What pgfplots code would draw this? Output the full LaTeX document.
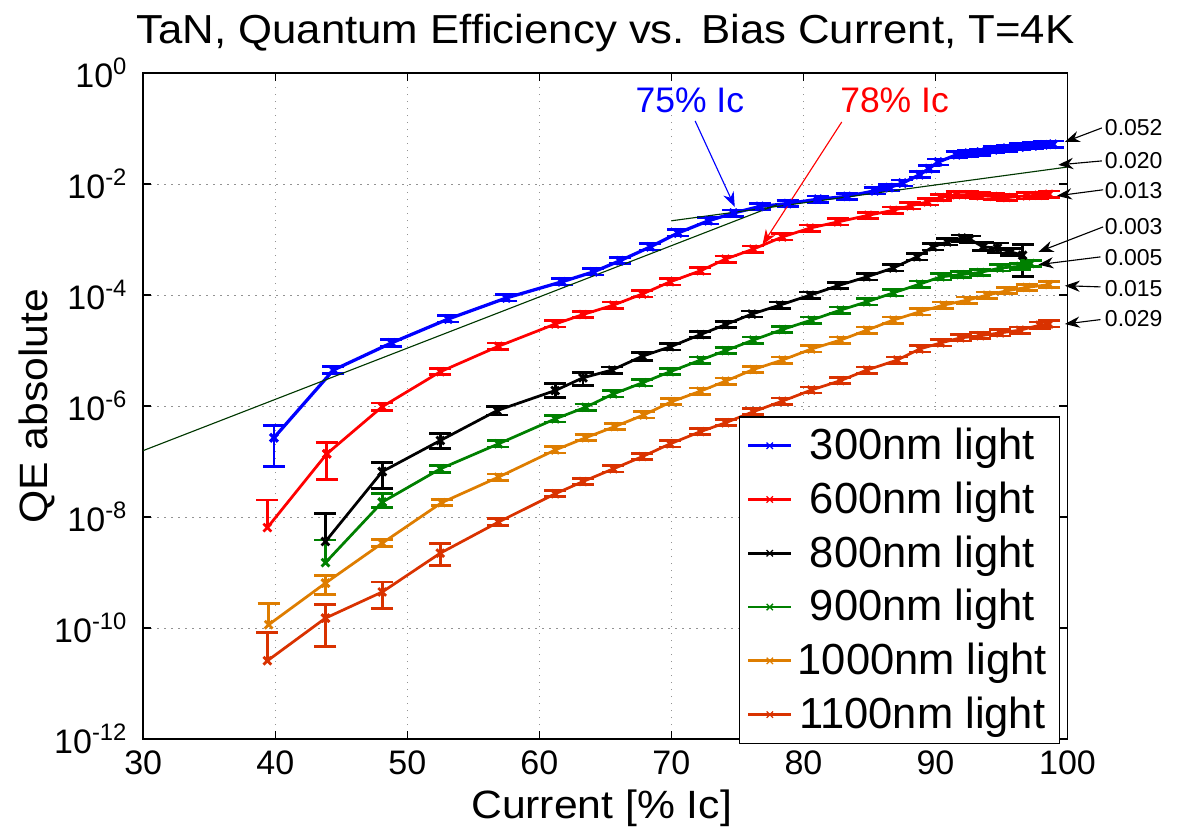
\documentclass[border=0pt]{standalone}
\usepackage{fontspec}
\setmainfont{Liberation Sans}
\newfontfamily\widefont{Liberation Sans}[FakeStretch=1.08]
\usepackage{pgfplots}
\pgfplotsset{compat=1.18}
\usetikzlibrary{arrows.meta}

\definecolor{mgreen}{RGB}{0,128,0}
\definecolor{morange}{RGB}{222,125,0}
\definecolor{mrust}{RGB}{217,50,0}
\definecolor{fitgreen}{RGB}{0,55,0}

\pgfplotsset{
  qe/.style={mark=x, line width=1.1pt, mark size=2.2pt, mark options={solid},
    /pgfplots/error bars/y dir=both,
    /pgfplots/error bars/y explicit relative,
    /pgfplots/error bars/error bar style={line width=1.1pt},
    /pgfplots/error bars/error mark options={rotate=90, line width=1.1pt, mark size=4.4pt}},
  qeplus/.style={qe, forget plot, /pgfplots/error bars/y dir=plus},
}

\begin{document}
\begin{tikzpicture}
\begin{axis}[
  name=ax, at={(0,0)}, anchor=south west,
  scale only axis, width=369.7pt, height=266.3pt,
  xmin=30, xmax=100, ymin=1e-12, ymax=1, ymode=log,
  xtick={30,40,...,100},
  ytick={1e-12,1e-10,1e-8,1e-6,1e-4,1e-2,1},
  yticklabels={10\textsuperscript{-12},10\textsuperscript{-10},10\textsuperscript{-8},10\textsuperscript{-6},10\textsuperscript{-4},10\textsuperscript{-2},10\textsuperscript{0}},
  yminorticks=false,
  grid=major,
  major grid style={line width=0.4pt, gray!85, dash pattern=on 0.6pt off 2.2pt},
  tick align=inside, major tick length=3.2pt,
  tick style={black, line width=0.6pt},
  axis line style={line width=0.7pt},
  ticklabel style={font=\fontsize{13.6pt}{16pt}\selectfont},
  /pgf/number format/assume math mode=true,
  yticklabel style={xshift=-2.7pt},
  xticklabel style={yshift=-1.1pt},
  clip=false,
  legend cell align=center,
  legend style={at={(0.992,0.485)}, anchor=north east,
    font=\fontsize{17.4pt}{20pt}\selectfont, draw=black, line width=0.6pt,
    inner xsep=3pt, inner ysep=2.5pt, row sep=3.4pt},
  legend image post style={mark size=1.8pt, mark options={line width=0.5pt}},
]
% 300 nm
\addplot[qe, color=blue, line width=1.3pt] table[x=x,y=y,y error plus=ep,y error minus=em] {
x y ep em
39.9 2.69e-7 0.66 0.70
44.4 4.47e-6 0.16 0.14
48.8 1.38e-5 0.15 0.13
53.1 3.72e-5 0.14 0.12
57.5 8.91e-5 0.14 0.12
61.7 1.74e-4 0.14 0.12
64.1 2.63e-4 0.14 0.12
66.1 4.17e-4 0.14 0.12
68.4 7.41e-4 0.14 0.12
70.5 1.32e-3 0.14 0.12
72.8 2.19e-3 0.14 0.12
74.7 3.02e-3 0.14 0.12
76.7 3.98e-3 0.14 0.12
78.8 4.47e-3 0.14 0.12
81.1 5.37e-3 0.14 0.12
83.3 6.03e-3 0.14 0.12
85.4 7.59e-3 0.14 0.12
86.5 8.71e-3 0.14 0.12
87.5 1.05e-2 0.14 0.12
88.8 1.48e-2 0.14 0.12
89.5 1.91e-2 0.14 0.12
90.2 2.51e-2 0.14 0.12
91.6 3.39e-2 0.14 0.12
92.5 3.63e-2 0.14 0.12
93.4 3.80e-2 0.14 0.12
94.4 4.17e-2 0.14 0.12
95.4 4.47e-2 0.14 0.12
96.4 4.68e-2 0.14 0.12
97.4 4.90e-2 0.14 0.12
98.2 5.13e-2 0.14 0.12
98.9 5.25e-2 0.14 0.12
};
\addlegendentry{300nm light}
% 600 nm
\addplot[qe, color=red] table[x=x,y=y,y error plus=ep,y error minus=em] {
x y ep em
43.9 1.38e-7 0.58 0.66
48.1 9.77e-7 0.16 0.14
52.5 4.17e-6 0.14 0.12
56.9 1.20e-5 0.14 0.12
61.2 3.02e-5 0.14 0.12
63.3 4.47e-5 0.14 0.12
65.6 6.61e-5 0.14 0.12
67.8 1.05e-4 0.14 0.12
69.9 1.74e-4 0.14 0.12
72.2 2.75e-4 0.14 0.12
74.1 4.47e-4 0.14 0.12
76.2 6.76e-4 0.14 0.12
78.4 1.12e-3 0.14 0.12
80.5 1.62e-3 0.14 0.12
82.6 2.09e-3 0.14 0.12
84.9 2.75e-3 0.14 0.12
86.8 3.39e-3 0.14 0.12
88.1 4.07e-3 0.14 0.12
89.4 4.79e-3 0.14 0.12
90.4 5.75e-3 0.14 0.12
91.6 6.46e-3 0.14 0.12
92.5 6.46e-3 0.14 0.12
93.4 6.17e-3 0.14 0.12
94.4 6.03e-3 0.14 0.12
95.4 5.75e-3 0.14 0.12
96.9 6.17e-3 0.14 0.12
97.8 6.31e-3 0.14 0.12
98.6 6.61e-3 0.14 0.12
};
\addlegendentry{600nm light}
% 800 nm
\addplot[qe, color=black] table[x=x,y=y,y error plus=ep,y error minus=em] {
x y ep em
48.1 6.61e-8 0.45 0.51
52.5 2.40e-7 0.32 0.29
56.8 8.32e-7 0.20 0.17
61.2 1.91e-6 0.32 0.26
63.3 3.24e-6 0.23 0.28
65.5 4.47e-6 0.14 0.12
67.8 7.94e-6 0.18 0.16
69.9 1.17e-5 0.14 0.12
72.2 1.95e-5 0.14 0.12
74.1 2.95e-5 0.14 0.12
76.1 4.57e-5 0.14 0.12
78.2 6.61e-5 0.14 0.12
80.5 1.00e-4 0.14 0.12
82.6 1.48e-4 0.14 0.12
84.8 2.14e-4 0.14 0.12
86.8 3.09e-4 0.14 0.12
88.6 4.90e-4 0.14 0.12
89.8 7.41e-4 0.14 0.12
90.9 9.12e-4 0.14 0.12
92.0 1.07e-3 0.14 0.12
92.6 1.02e-3 0.14 0.12
93.6 7.41e-4 0.20 0.15
94.7 7.08e-4 0.23 0.19
95.7 6.03e-4 0.16 0.14
96.6 5.25e-4 0.58 0.59
};
\addlegendentry{800nm light}
% 900 nm
\addplot[qe, color=mgreen] table[x=x,y=y,y error plus=ep,y error minus=em] {
x y ep em
48.1 1.86e-8 0.41 0.21
52.5 7.41e-8 0.16 0.14
56.9 2.09e-7 0.14 0.12
61.2 5.89e-7 0.14 0.12
63.5 9.55e-7 0.14 0.12
65.6 1.66e-6 0.14 0.12
67.8 2.63e-6 0.14 0.12
69.9 4.17e-6 0.14 0.12
72.2 6.76e-6 0.14 0.12
74.1 1.00e-5 0.14 0.12
76.2 1.55e-5 0.14 0.12
78.4 2.40e-5 0.14 0.12
80.6 3.55e-5 0.14 0.12
82.8 5.37e-5 0.14 0.12
84.8 7.59e-5 0.14 0.12
86.8 1.10e-4 0.14 0.12
88.8 1.58e-4 0.14 0.12
90.4 2.14e-4 0.14 0.12
91.9 2.34e-4 0.14 0.12
93.4 2.57e-4 0.14 0.12
94.9 3.09e-4 0.14 0.12
96.4 3.31e-4 0.14 0.12
97.2 3.72e-4 0.14 0.12
};
\addlegendentry{900nm light}
% 1000 nm
\addplot[qe, color=morange] table[x=x,y=y,y error plus=ep,y error minus=em] {
x y ep em
43.8 6.46e-10 0.38 0.38
48.1 3.39e-9 0.15 0.13
52.6 1.82e-8 0.14 0.12
56.9 5.25e-8 0.14 0.12
61.2 1.62e-7 0.14 0.12
63.5 2.69e-7 0.14 0.12
65.7 4.27e-7 0.14 0.12
67.9 6.92e-7 0.14 0.12
70.0 1.20e-6 0.14 0.12
72.2 1.86e-6 0.14 0.12
74.1 2.82e-6 0.14 0.12
76.2 4.57e-6 0.14 0.12
78.4 6.76e-6 0.14 0.12
80.6 1.07e-5 0.14 0.12
82.8 1.55e-5 0.14 0.12
84.8 2.34e-5 0.14 0.12
86.8 3.55e-5 0.14 0.12
88.8 5.01e-5 0.14 0.12
90.6 6.61e-5 0.14 0.12
92.4 8.13e-5 0.14 0.12
93.9 1.00e-4 0.14 0.12
95.4 1.20e-4 0.14 0.12
96.9 1.38e-4 0.14 0.12
98.6 1.55e-4 0.14 0.12
};
\addlegendentry{1000nm light}
% 1100 nm
\addplot[qe, color=mrust] table[x=x,y=y,y error plus=ep,y error minus=em] {
x y ep em
43.8 1.51e-10 0.74 0.69
48.1 4.47e-10 0.51 0.49
52.5 2.24e-9 0.48 0.40
56.9 8.13e-9 0.15 0.13
61.2 2.63e-8 0.14 0.12
63.3 4.37e-8 0.14 0.12
65.6 7.41e-8 0.14 0.12
67.8 1.23e-7 0.14 0.12
69.9 2.09e-7 0.14 0.12
72.2 3.47e-7 0.14 0.12
74.1 5.01e-7 0.14 0.12
76.2 7.94e-7 0.14 0.12
78.4 1.23e-6 0.14 0.12
80.6 1.95e-6 0.14 0.12
82.8 2.88e-6 0.14 0.12
84.8 4.47e-6 0.14 0.12
87.1 6.76e-6 0.14 0.12
88.8 1.07e-5 0.14 0.12
90.4 1.38e-5 0.14 0.12
91.9 1.70e-5 0.14 0.12
93.4 1.86e-5 0.14 0.12
94.9 2.09e-5 0.14 0.12
96.4 2.34e-5 0.14 0.12
97.9 2.88e-5 0.14 0.12
98.6 3.02e-5 0.14 0.12
};
\addlegendentry{1100nm light}

% first points with one-sided error bars
\addplot[qeplus, color=red] table[x=x,y=y,y error plus=ep,y error minus=em] {
x y ep em
39.4 6.46e-9 2.16 0
43.9 1.38e-7 0.58 0
};
\addplot[qeplus, color=black] table[x=x,y=y,y error plus=ep,y error minus=em] {
x y ep em
43.8 3.63e-9 2.16 0
48.1 6.61e-8 0.45 0
};
\addplot[qeplus, color=mgreen] table[x=x,y=y,y error plus=ep,y error minus=em] {
x y ep em
43.8 1.51e-9 1.57 0
48.1 1.86e-8 0.41 0
};
\addplot[qeplus, color=morange] table[x=x,y=y,y error plus=ep,y error minus=em] {
x y ep em
39.5 1.15e-10 1.40 0
43.8 6.46e-10 0.38 0
};
\addplot[qeplus, color=mrust] table[x=x,y=y,y error plus=ep,y error minus=em] {
x y ep em
39.4 2.57e-11 2.24 0
43.8 1.51e-10 0.74 0
};

% fit lines
\addplot[forget plot, fitgreen, line width=0.45pt] coordinates {(30,1.58e-7) (78,4.27e-3)};
\addplot[forget plot, fitgreen, line width=0.45pt] coordinates {(70,2.19e-3) (100,2.04e-2)};

% annotations
\node[blue, font=\fontsize{14.2pt}{17pt}\selectfont] at (axis cs:71.4,0.331) {75\% Ic};
\node[red, font=\fontsize{14.2pt}{17pt}\selectfont] at (axis cs:86.9,0.331) {78\% Ic};
\draw[blue, line width=0.45pt, -{Stealth[length=6pt,width=4.5pt]}] (axis cs:71.8,0.138) -- (axis cs:74.8,3.89e-3);
\draw[red, line width=0.45pt, -{Stealth[length=6pt,width=4.5pt]}] (axis cs:82.9,0.132) -- (axis cs:76.9,8.13e-4);

\tikzset{rarr/.style={black, line width=0.45pt, -{Stealth[length=6pt,width=4.5pt]}},
  rlab/.style={anchor=west, font=\fontsize{9.2pt}{11pt}\selectfont, inner sep=0pt}}
\draw[rarr] (axis cs:102.6,0.1033) -- (axis cs:99.8,0.0578);
\draw[rarr] (axis cs:102.6,0.0263) -- (axis cs:99.3,0.0223);
\draw[rarr] (axis cs:102.7,7.94e-3) -- (axis cs:99.2,6.17e-3);
\draw[rarr] (axis cs:102.7,1.70e-3) -- (axis cs:97.8,6.03e-4);
\draw[rarr] (axis cs:102.5,4.90e-4) -- (axis cs:97.8,3.55e-4);
\draw[rarr] (axis cs:102.5,1.41e-4) -- (axis cs:99.8,1.48e-4);
\draw[rarr] (axis cs:102.5,3.63e-5) -- (axis cs:99.8,3.02e-5);
\node[rlab] at (axis cs:102.8,0.1033) {0.052};
\node[rlab] at (axis cs:102.8,0.0263) {0.020};
\node[rlab] at (axis cs:102.8,7.59e-3) {0.013};
\node[rlab] at (axis cs:102.8,1.70e-3) {0.003};
\node[rlab] at (axis cs:102.8,4.68e-4) {0.005};
\node[rlab] at (axis cs:102.8,1.29e-4) {0.015};
\node[rlab] at (axis cs:102.8,3.72e-5) {0.029};
\end{axis}

\node[anchor=base, font=\widefont\fontsize{16.2pt}{19pt}\selectfont] at ([yshift=12pt]ax.north) {TaN, Quantum Efficiency vs. Bias Current, T=4K};
\node[anchor=base, font=\widefont\fontsize{15.8pt}{19pt}\selectfont] at ([yshift=-31.6pt, xshift=-1.5pt]ax.south) {Current [\% Ic]};
\node[anchor=base, rotate=90, font=\widefont\fontsize{15.8pt}{19pt}\selectfont] at ([xshift=-38.4pt]ax.west) {QE absolute};

\pgfresetboundingbox
\path[use as bounding box] ([xshift=-57.3pt,yshift=-36.8pt]ax.south west) rectangle ++(471.2pt,332.4pt);
\end{tikzpicture}
\end{document}
